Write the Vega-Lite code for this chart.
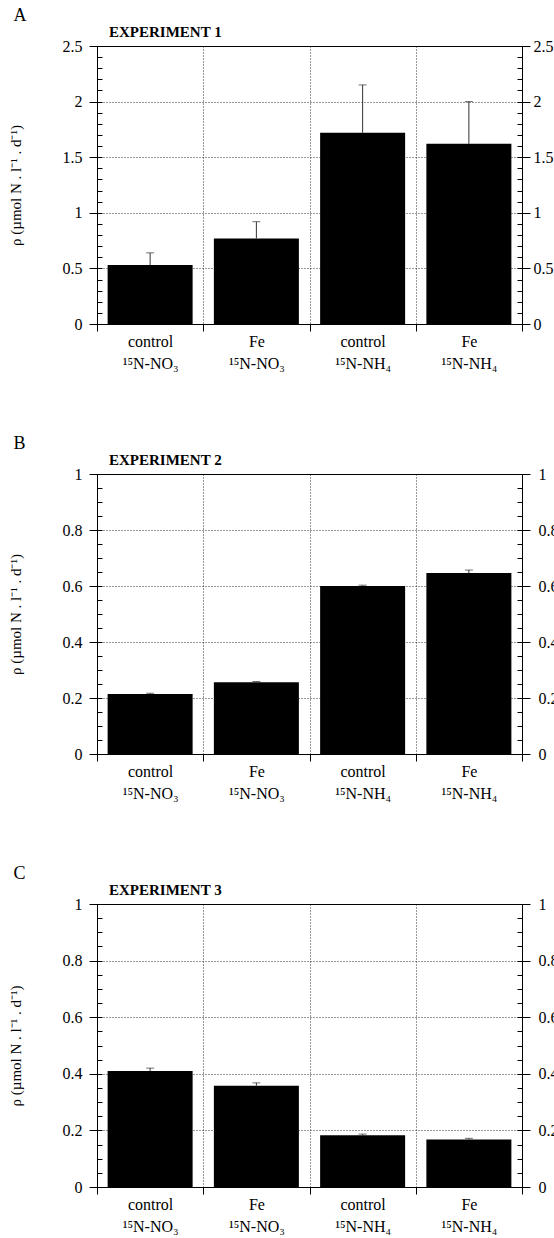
{
  "$schema": "https://vega.github.io/schema/vega-lite/v6.json",
  "padding": {"left": 7, "top": 6, "right": 0, "bottom": 0},
  "background": "white",
  "datasets": {
    "rates": [
      {"experiment": 1, "treatment": "control|¹⁵N-NO₃", "rate": 0.53, "upper": 0.64},
      {"experiment": 1, "treatment": "Fe|¹⁵N-NO₃", "rate": 0.77, "upper": 0.92},
      {"experiment": 1, "treatment": "control|¹⁵N-NH₄", "rate": 1.72, "upper": 2.15},
      {"experiment": 1, "treatment": "Fe|¹⁵N-NH₄", "rate": 1.62, "upper": 2.0},
      {"experiment": 2, "treatment": "control|¹⁵N-NO₃", "rate": 0.214, "upper": 0.217},
      {"experiment": 2, "treatment": "Fe|¹⁵N-NO₃", "rate": 0.256, "upper": 0.259},
      {"experiment": 2, "treatment": "control|¹⁵N-NH₄", "rate": 0.6, "upper": 0.603},
      {"experiment": 2, "treatment": "Fe|¹⁵N-NH₄", "rate": 0.646, "upper": 0.657},
      {"experiment": 3, "treatment": "control|¹⁵N-NO₃", "rate": 0.41, "upper": 0.42},
      {"experiment": 3, "treatment": "Fe|¹⁵N-NO₃", "rate": 0.358, "upper": 0.368},
      {"experiment": 3, "treatment": "control|¹⁵N-NH₄", "rate": 0.183, "upper": 0.187},
      {"experiment": 3, "treatment": "Fe|¹⁵N-NH₄", "rate": 0.168, "upper": 0.172}
    ]
  },
  "data": {"name": "rates"},
  "spacing": 62,
  "vconcat": [
    {
      "title": {"text": "A", "anchor": "start", "dx": 6, "fontSize": 18, "fontWeight": "normal", "offset": 0},
      "vconcat": [
        {
          "title": {"text": "EXPERIMENT 1", "anchor": "start", "frame": "group", "dx": 12, "fontSize": 15, "fontWeight": "bold", "offset": -2},
          "width": 425,
          "height": 278,
          "transform": [{"filter": "datum.experiment == 1"}],
          "encoding": {
            "x": {"field": "treatment", "type": "nominal", "sort": null,
              "scale": {"paddingInner": 0, "paddingOuter": 0},
              "axis": {"orient": "bottom", "tickBand": "extent", "tickSize": 7, "grid": true, "gridDash": [1, 2], "gridColor": "#000", "gridOpacity": 0.8, "domain": false, "labelExpr": "split(datum.label, '|')", "labelAngle": 0, "labelFontSize": 16, "labelLineHeight": 22, "labelPadding": 2, "title": null}}
          },
          "layer": [
            {"mark": {"type": "bar", "width": {"band": 0.8}, "color": "#000"},
             "encoding": {"y": {"field": "rate", "type": "quantitative", "scale": {"domain": [0, 2.5], "nice": false},
               "axis": {"orient": "left", "values": [0, 0.5, 1, 1.5, 2, 2.5], "format": "~g", "tickSize": 8, "labelPadding": 7, "grid": true, "gridDash": [1, 2], "gridColor": "#000", "gridOpacity": 0.8, "domain": false, "title": "ρ (µmol N . l⁻¹ . d⁻¹)", "titlePadding": 39}}}},
            {"mark": {"type": "rule", "color": "#333", "strokeWidth": 1},
             "encoding": {"y": {"field": "rate", "type": "quantitative",
               "axis": {"orient": "right", "values": [0, 0.5, 1, 1.5, 2, 2.5], "format": "~g", "tickSize": 8, "labelPadding": 3, "grid": false, "domain": false, "title": null}},
               "y2": {"field": "upper"}}},
            {"mark": {"type": "tick", "color": "#333", "size": 8, "thickness": 1},
             "encoding": {"y": {"field": "upper", "type": "quantitative",
               "axis": {"orient": "left", "values": [0, 0.1, 0.2, 0.3, 0.4, 0.5, 0.6, 0.7, 0.8, 0.9, 1, 1.1, 1.2, 1.3, 1.4, 1.5, 1.6, 1.7, 1.8, 1.9, 2, 2.1, 2.2, 2.3, 2.4, 2.5], "tickSize": -5, "labels": false, "grid": false, "domain": false, "title": null}}}},
            {"mark": {"type": "point", "opacity": 0},
             "encoding": {"y": {"field": "upper", "type": "quantitative",
               "axis": {"orient": "right", "values": [0, 0.1, 0.2, 0.3, 0.4, 0.5, 0.6, 0.7, 0.8, 0.9, 1, 1.1, 1.2, 1.3, 1.4, 1.5, 1.6, 1.7, 1.8, 1.9, 2, 2.1, 2.2, 2.3, 2.4, 2.5], "tickSize": -5, "labels": false, "grid": false, "domain": false, "title": null}}}}
          ],
          "resolve": {"axis": {"y": "independent"}}
        }
      ]
    },
    {
      "title": {"text": "B", "anchor": "start", "dx": 6, "fontSize": 18, "fontWeight": "normal", "offset": 0},
      "vconcat": [
        {
          "title": {"text": "EXPERIMENT 2", "anchor": "start", "frame": "group", "dx": 12, "fontSize": 15, "fontWeight": "bold", "offset": -2},
          "width": 425,
          "height": 280,
          "transform": [{"filter": "datum.experiment == 2"}],
          "encoding": {
            "x": {"field": "treatment", "type": "nominal", "sort": null,
              "scale": {"paddingInner": 0, "paddingOuter": 0},
              "axis": {"orient": "bottom", "tickBand": "extent", "tickSize": 7, "grid": true, "gridDash": [1, 2], "gridColor": "#000", "gridOpacity": 0.8, "domain": false, "labelExpr": "split(datum.label, '|')", "labelAngle": 0, "labelFontSize": 16, "labelLineHeight": 22, "labelPadding": 2, "title": null}}
          },
          "layer": [
            {"mark": {"type": "bar", "width": {"band": 0.8}, "color": "#000"},
             "encoding": {"y": {"field": "rate", "type": "quantitative", "scale": {"domain": [0, 1], "nice": false},
               "axis": {"orient": "left", "values": [0, 0.2, 0.4, 0.6, 0.8, 1], "format": "~g", "tickSize": 8, "labelPadding": 7, "grid": true, "gridDash": [1, 2], "gridColor": "#000", "gridOpacity": 0.8, "domain": false, "title": "ρ (µmol N . l⁻¹ . d⁻¹)", "titlePadding": 39}}}},
            {"mark": {"type": "rule", "color": "#333", "strokeWidth": 1},
             "encoding": {"y": {"field": "rate", "type": "quantitative",
               "axis": {"orient": "right", "values": [0, 0.2, 0.4, 0.6, 0.8, 1], "format": "~g", "tickSize": 8, "labelPadding": 8, "grid": false, "domain": false, "title": null}},
               "y2": {"field": "upper"}}},
            {"mark": {"type": "tick", "color": "#333", "size": 8, "thickness": 1},
             "encoding": {"y": {"field": "upper", "type": "quantitative",
               "axis": {"orient": "left", "values": [0, 0.05, 0.1, 0.15, 0.2, 0.25, 0.3, 0.35, 0.4, 0.45, 0.5, 0.55, 0.6, 0.65, 0.7, 0.75, 0.8, 0.85, 0.9, 0.95, 1], "tickSize": -5, "labels": false, "grid": false, "domain": false, "title": null}}}},
            {"mark": {"type": "point", "opacity": 0},
             "encoding": {"y": {"field": "upper", "type": "quantitative",
               "axis": {"orient": "right", "values": [0, 0.05, 0.1, 0.15, 0.2, 0.25, 0.3, 0.35, 0.4, 0.45, 0.5, 0.55, 0.6, 0.65, 0.7, 0.75, 0.8, 0.85, 0.9, 0.95, 1], "tickSize": -5, "labels": false, "grid": false, "domain": false, "title": null}}}}
          ],
          "resolve": {"axis": {"y": "independent"}}
        }
      ]
    },
    {
      "title": {"text": "C", "anchor": "start", "dx": 6, "fontSize": 18, "fontWeight": "normal", "offset": 0},
      "vconcat": [
        {
          "title": {"text": "EXPERIMENT 3", "anchor": "start", "frame": "group", "dx": 12, "fontSize": 15, "fontWeight": "bold", "offset": -2},
          "width": 425,
          "height": 283,
          "transform": [{"filter": "datum.experiment == 3"}],
          "encoding": {
            "x": {"field": "treatment", "type": "nominal", "sort": null,
              "scale": {"paddingInner": 0, "paddingOuter": 0},
              "axis": {"orient": "bottom", "tickBand": "extent", "tickSize": 7, "grid": true, "gridDash": [1, 2], "gridColor": "#000", "gridOpacity": 0.8, "domain": false, "labelExpr": "split(datum.label, '|')", "labelAngle": 0, "labelFontSize": 16, "labelLineHeight": 22, "labelPadding": 2, "title": null}}
          },
          "layer": [
            {"mark": {"type": "bar", "width": {"band": 0.8}, "color": "#000"},
             "encoding": {"y": {"field": "rate", "type": "quantitative", "scale": {"domain": [0, 1], "nice": false},
               "axis": {"orient": "left", "values": [0, 0.2, 0.4, 0.6, 0.8, 1], "format": "~g", "tickSize": 8, "labelPadding": 7, "grid": true, "gridDash": [1, 2], "gridColor": "#000", "gridOpacity": 0.8, "domain": false, "title": "ρ (µmol N . l⁻¹ . d⁻¹)", "titlePadding": 39}}}},
            {"mark": {"type": "rule", "color": "#333", "strokeWidth": 1},
             "encoding": {"y": {"field": "rate", "type": "quantitative",
               "axis": {"orient": "right", "values": [0, 0.2, 0.4, 0.6, 0.8, 1], "format": "~g", "tickSize": 8, "labelPadding": 8, "grid": false, "domain": false, "title": null}},
               "y2": {"field": "upper"}}},
            {"mark": {"type": "tick", "color": "#333", "size": 8, "thickness": 1},
             "encoding": {"y": {"field": "upper", "type": "quantitative",
               "axis": {"orient": "left", "values": [0, 0.05, 0.1, 0.15, 0.2, 0.25, 0.3, 0.35, 0.4, 0.45, 0.5, 0.55, 0.6, 0.65, 0.7, 0.75, 0.8, 0.85, 0.9, 0.95, 1], "tickSize": -5, "labels": false, "grid": false, "domain": false, "title": null}}}},
            {"mark": {"type": "point", "opacity": 0},
             "encoding": {"y": {"field": "upper", "type": "quantitative",
               "axis": {"orient": "right", "values": [0, 0.05, 0.1, 0.15, 0.2, 0.25, 0.3, 0.35, 0.4, 0.45, 0.5, 0.55, 0.6, 0.65, 0.7, 0.75, 0.8, 0.85, 0.9, 0.95, 1], "tickSize": -5, "labels": false, "grid": false, "domain": false, "title": null}}}}
          ],
          "resolve": {"axis": {"y": "independent"}}
        }
      ]
    }
  ],
  "config": {
    "font": "Liberation Serif",
    "view": {"stroke": "#000", "strokeWidth": 1},
    "axis": {"labelFont": "Liberation Serif", "labelFontSize": 16, "labelColor": "#000", "tickColor": "#000", "titleFont": "Liberation Serif", "titleFontSize": 15, "titleFontWeight": "normal", "titleColor": "#000"},
    "title": {"font": "Liberation Serif", "color": "#000"}
  }
}
